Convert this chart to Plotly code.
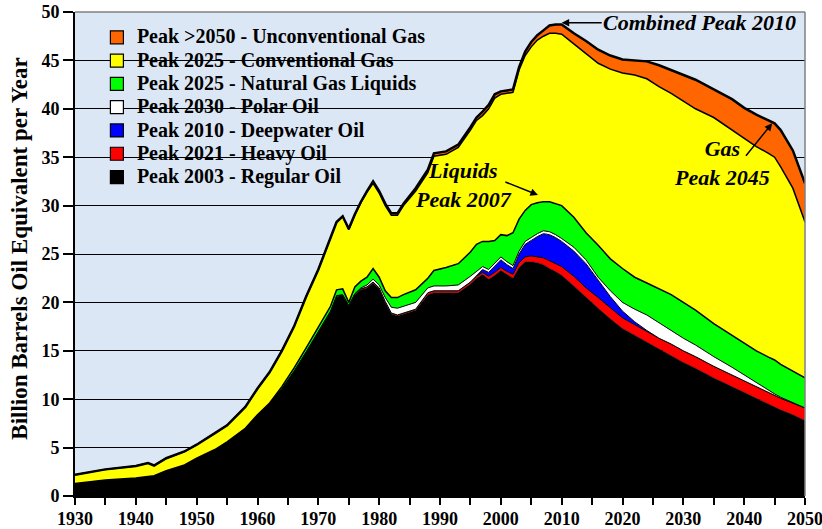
import plotly.graph_objects as go

years = [1930, 1935, 1940, 1942, 1943, 1945, 1948, 1950, 1953, 1955,
         1958, 1960, 1962, 1964, 1966, 1968, 1970, 1972, 1973, 1974,
         1975, 1976, 1977, 1978, 1979, 1980, 1981, 1982, 1983, 1984,
         1986, 1988, 1989, 1991, 1993, 1995, 1996, 1997, 1998, 1999,
         2000, 2001, 2002, 2003, 2004, 2005, 2006, 2007, 2008, 2009,
         2010, 2012, 2014, 2016, 2018, 2020, 2022, 2024, 2026, 2028,
         2030, 2032, 2035, 2038, 2040, 2042, 2044, 2045, 2046, 2048,
         2050]

regular_oil = [1.3, 1.65, 1.85, 2.0, 2.1, 2.6, 3.2, 3.9, 4.8, 5.6,
               7.0, 8.4, 9.6, 11.1, 12.9, 14.9, 17.0, 19.0, 20.6, 20.7,
               19.6, 20.8, 21.3, 21.5, 22.0, 21.4, 20.0, 18.8, 18.6, 18.8,
               19.2, 20.8, 21.0, 21.0, 21.0, 21.9, 22.5, 22.9, 22.4, 22.8,
               23.3, 22.9, 22.5, 23.6, 24.2, 24.2, 24.1, 23.9, 23.5, 23.2,
               22.8, 21.7, 20.5, 19.4, 18.3, 17.3, 16.6, 15.9, 15.2, 14.5,
               13.8, 13.2, 12.2, 11.3, 10.7, 10.1, 9.5, 9.2, 8.9, 8.4,
               7.8]

heavy_oil = [0, 0, 0, 0, 0, 0, 0, 0, 0, 0,
             0, 0, 0, 0, 0, 0, 0, 0.1, 0.1, 0.1,
             0.1, 0.1, 0.1, 0.1, 0.1, 0.1, 0.1, 0.1, 0.1, 0.1,
             0.1, 0.2, 0.2, 0.2, 0.2, 0.2, 0.2, 0.2, 0.3, 0.3,
             0.3, 0.3, 0.4, 0.5, 0.5, 0.6, 0.6, 0.7, 0.8, 0.8,
             0.9, 1.0, 1.0, 1.1, 1.1, 1.1, 1.1, 1.1, 1.1, 1.2,
             1.2, 1.2, 1.2, 1.2, 1.2, 1.2, 1.2, 1.2, 1.2, 1.2,
             1.3]

deepwater_oil = [0, 0, 0, 0, 0, 0, 0, 0, 0, 0,
                 0, 0, 0, 0, 0, 0, 0, 0, 0, 0,
                 0, 0, 0, 0, 0, 0, 0, 0, 0, 0,
                 0, 0, 0, 0, 0, 0, 0, 0.3, 0.4, 0.6,
                 0.8, 0.7, 0.6, 0.9, 1.3, 1.6, 2.1, 2.5, 2.7, 2.7,
                 2.6, 2.6, 2.5, 1.8, 1.2, 0.7, 0.3, 0.1, 0, 0,
                 0, 0, 0, 0, 0, 0, 0, 0, 0, 0,
                 0]

polar_oil = [0, 0, 0, 0, 0, 0, 0, 0, 0, 0,
             0, 0, 0, 0, 0, 0, 0, 0, 0, 0,
             0, 0, 0.1, 0.2, 0.3, 0.3, 0.4, 0.6, 0.7, 0.7,
             0.7, 0.5, 0.5, 0.5, 0.6, 0.6, 0.5, 0.3, 0.3, 0.3,
             0.3, 0.3, 0.3, 0.3, 0.3, 0.3, 0.3, 0.3, 0.3, 0.3,
             0.3, 0.4, 0.4, 0.3, 0.6, 0.9, 1.3, 1.6, 1.6, 1.4,
             1.3, 1.2, 1.0, 0.8, 0.6, 0.4, 0.25, 0.15, 0.1, 0.05,
             0]

ngl = [0, 0, 0, 0, 0, 0, 0, 0, 0, 0,
       0, 0, 0, 0.2, 0.3, 0.4, 0.5, 0.5, 0.6, 0.6,
       0.3, 0.7, 0.7, 0.8, 1.1, 0.8, 0.7, 1.0, 1.1, 1.2,
       1.3, 1.0, 1.6, 1.9, 2.2, 2.5, 2.8, 2.6, 2.9, 2.4,
       2.3, 2.7, 3.4, 3.3, 3.2, 3.4, 3.2, 3.0, 3.1, 3.2,
       3.4, 3.1, 2.8, 3.3, 3.3, 3.5, 3.3, 3.3, 3.5, 3.7,
       3.7, 3.6, 3.4, 3.3, 3.3, 3.3, 3.4, 3.5, 3.4, 3.25,
       3.1]

conventional_gas = [0.9, 1.1, 1.25, 1.4, 1.05, 1.3, 1.4, 1.4, 1.7, 1.7,
                    2.2, 2.7, 3.2, 3.7, 4.3, 5.3, 5.9, 7.0, 7.0, 7.5,
                    7.5, 7.4, 8.1, 8.8, 8.8, 8.7, 8.8, 8.5, 8.5, 9.2,
                    10.2, 10.9, 11.8, 11.7, 12.0, 12.6, 12.8, 13.0, 13.7, 14.7,
                    14.5, 14.7, 14.5, 15.4, 16.0, 16.3, 16.8, 17.1, 17.4, 17.6,
                    17.7, 17.9, 18.5, 18.8, 19.6, 20.2, 20.9, 21.1, 20.9, 20.8,
                    20.8, 20.8, 21.3, 21.2, 21.2, 21.1, 21.05, 20.95, 20.4, 18.9,
                    16.1]

unconventional_gas = [0, 0, 0, 0, 0, 0, 0, 0, 0, 0,
                      0, 0, 0, 0, 0, 0, 0, 0, 0, 0,
                      0.1, 0.1, 0.1, 0.1, 0.2, 0.2, 0.2, 0.2, 0.2, 0.2,
                      0.3, 0.3, 0.3, 0.3, 0.3, 0.3, 0.3, 0.4, 0.4, 0.4,
                      0.3, 0.3, 0.3, 0.3, 0.4, 0.5, 0.5, 0.6, 0.8, 0.9,
                      1.0, 1.1, 1.3, 1.4, 1.4, 1.4, 1.5, 1.8, 2.2, 2.4,
                      2.7, 3.0, 2.9, 3.2, 3.1, 3.3, 3.4, 3.5, 3.8, 3.9,
                      4.0]

series = [
    ("Peak 2003 - Regular Oil", regular_oil, "#000000", 0.5),
    ("Peak 2021 - Heavy Oil", heavy_oil, "#FF0000", 1.0),
    ("Peak 2010 - Deepwater Oil", deepwater_oil, "#0000FF", 1.0),
    ("Peak 2030 - Polar Oil", polar_oil, "#FFFFFF", 1.0),
    ("Peak 2025 - Natural Gas Liquids", ngl, "#00FF00", 1.5),
    ("Peak 2025 - Conventional Gas", conventional_gas, "#FFFF00", 1.5),
    ("Peak >2050 - Unconventional Gas", unconventional_gas, "#FF6600", 2.5),
]

x_tick_vals = list(range(1930, 2051, 5))
x_tick_text = [str(v) if v % 10 == 0 else "" for v in x_tick_vals]

SERIF = "Times New Roman, Times, Liberation Serif, DejaVu Serif, serif"
BG = "#DCE7F5"

fig = go.Figure()
for name, vals, col, lw in series:
    fig.add_trace(go.Scatter(
        x=years, y=vals, name=name, stackgroup="one", mode="lines",
        line=dict(color="#000000", width=lw), fillcolor=col,
        showlegend=False, hoverinfo="skip"))

# legend entries (square swatches)
for name, vals, col, lw in reversed(series):
    fig.add_trace(go.Scatter(
        x=[None], y=[None], mode="markers",
        name="<span style='font-size:20px'><b>" + name + "</b></span>",
        marker=dict(symbol="square", size=13, color=col,
                    line=dict(color="#000000", width=1.2)),
        showlegend=True))

fig.update_layout(
    width=822, height=529,
    margin=dict(l=75, r=17, t=12, b=33, autoexpand=False),
    paper_bgcolor="#FFFFFF",
    plot_bgcolor=BG,
    font=dict(family=SERIF, color="#000000"),
    legend=dict(x=0.03, y=0.982, xanchor="left", yanchor="top",
                bgcolor="rgba(0,0,0,0)", borderwidth=0, traceorder="normal",
                font=dict(family=SERIF, size=15.6, color="#000000"),
                itemwidth=30, tracegroupgap=0),
    xaxis=dict(range=[1930, 2050], tickmode="array",
               tickvals=x_tick_vals, ticktext=x_tick_text, automargin=False,
               ticks="outside", ticklen=7, tickwidth=2, tickcolor="#000000",
               ticklabeloverflow="allow", ticklabelstandoff=-2,
               showgrid=False, zeroline=False,
               showline=True, linecolor="#000000", linewidth=2,
               tickfont=dict(family=SERIF, size=18, color="#000000", weight="bold")),
    yaxis=dict(range=[0, 50], tickmode="array", tickvals=list(range(0, 51, 5)),
               automargin=False,
               ticks="outside", ticklen=10, tickwidth=2, tickcolor="#000000",
               showgrid=True, gridcolor="#000000", gridwidth=1,
               zeroline=False, showline=True, linecolor="#000000", linewidth=2,
               tickfont=dict(family=SERIF, size=18, color="#000000", weight="bold")),
    shapes=[
        dict(type="rect", xref="paper", yref="paper", x0=0.04, x1=0.49,
             y0=0.64, y1=0.975, fillcolor=BG, line=dict(width=0),
             layer="between"),
        dict(type="line", xref="paper", yref="paper", x0=0, x1=1, y0=1, y1=1,
             line=dict(color="#808080", width=1.5), layer="above"),
        dict(type="line", xref="paper", yref="paper", x0=1, x1=1, y0=0, y1=1,
             line=dict(color="#808080", width=1.5), layer="above"),
    ],
    annotations=[
        dict(text="<b>Billion Barrels Oil Equivalent per Year</b>",
             xref="paper", yref="paper", x=-0.076, y=0.51, textangle=-90,
             showarrow=False, xanchor="center", yanchor="middle",
             font=dict(family=SERIF, size=23, color="#000000")),
        dict(text="<b><i>Combined Peak 2010</i></b>", x=2010, y=48.9,
             xref="x", yref="y", showarrow=True, ax=138, ay=0,
             arrowhead=2, arrowsize=1, arrowwidth=1.5, arrowcolor="#000000",
             font=dict(family=SERIF, size=22, color="#000000")),
        dict(text="<b><i>Liquids</i></b><br><b><i>Peak 2007</i></b>",
             x=1993.8, y=32.1, xref="x", yref="y", showarrow=False,
             font=dict(family=SERIF, size=22, color="#000000")),
        dict(text="", x=2006.1, y=31.1, ax=2000.5, ay=32.5,
             xref="x", yref="y", axref="x", ayref="y", showarrow=True,
             arrowhead=2, arrowsize=1, arrowwidth=1.5, arrowcolor="#000000"),
        dict(text="<b><i>Gas</i></b><br><b><i>Peak 2045</i></b>",
             x=2036.3, y=34.45, xref="x", yref="y", showarrow=False,
             font=dict(family=SERIF, size=22, color="#000000")),
        dict(text="", x=2044.6, y=38.5, ax=2040.1, ay=35.0,
             xref="x", yref="y", axref="x", ayref="y", showarrow=True,
             arrowhead=2, arrowsize=1, arrowwidth=1.5, arrowcolor="#000000"),
    ],
)

fig.write_html("out.html", config={"displayModeBar": False},
               post_script="document.body.style.margin='0';document.body.style.padding='0';")
